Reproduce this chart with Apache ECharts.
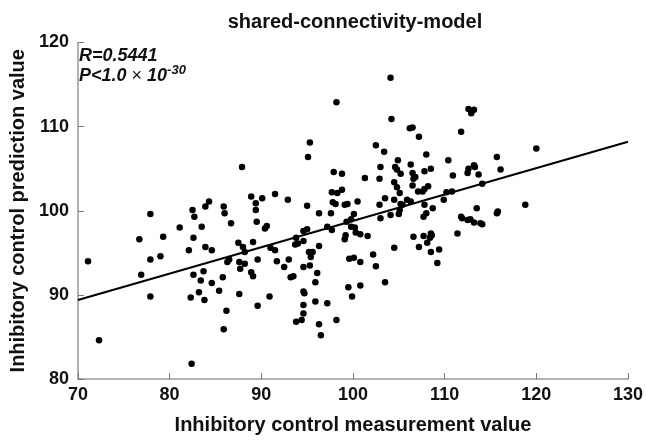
<!DOCTYPE html>
<html>
<head>
<meta charset="utf-8">
<script src="https://cdn.jsdelivr.net/npm/echarts@6/dist/echarts.min.js"></script>
<style>
  html, body { margin: 0; padding: 0; background: #fff; }
  #chart { width: 646px; height: 440px; }
</style>
</head>
<body>
<div id="chart"></div>
<script>
var measured = [
  84.3, 82.5, 83.9, 82.7, 77.9, 81.1, 83.5, 76.7, 79.3, 82.6, 71.1, 77.9, 79.0, 82.1, 83.9, 84.6, 76.9, 82.6, 83.7, 83.4,
  84.6, 77.9, 82.3, 83.2, 83.8, 72.3, 82.4, 98.2, 95.3, 95.1, 87.9, 97.9, 98.8, 97.7, 98.3, 98.8, 88.9, 90.1, 91.5, 92.9,
  89.4, 89.4, 85.9, 86.0, 95.0, 97.8, 98.1, 99.1, 99.4, 96.3, 97.6, 86.7, 89.5, 90.4, 90.6, 95.0, 94.6, 97.2, 97.7, 87.5,
  88.0, 88.2, 89.1, 91.0, 91.5, 93.8, 93.7, 94.0, 94.6, 95.2, 95.6, 95.4, 96.3, 86.5, 86.3, 87.6, 88.2, 87.7, 89.6, 91.7,
  93.0, 92.5, 94.6, 95.3, 96.1, 88.9, 89.1, 85.8, 93.2, 93.5, 85.4, 87.6, 86.2, 85.9, 89.6, 90.9, 95.9, 94.6, 94.7, 94.6,
  94.6, 94.4, 93.8, 95.9, 97.2, 96.3, 96.5, 98.2, 104.1, 104.2, 106.2, 106.5, 107.2, 112.6, 113.2, 112.9, 111.8, 102.5, 103.4, 104.9,
  108.0, 110.4, 103.0, 104.6, 104.8, 106.3, 105.2, 106.5, 106.8, 106.6, 107.8, 108.5, 110.9, 112.6, 112.5, 113.2, 113.3, 113.7, 101.3, 102.9,
  104.5, 104.8, 105.1, 106.5, 107.1, 107.6, 107.8, 108.2, 100.5, 103.5, 104.5, 105.2, 105.4, 105.9, 106.3, 102.9, 105.1, 104.1, 105.0, 103.0,
  107.8, 108.7, 108.0, 107.7, 109.9, 110.2, 110.8, 113.5, 111.8, 111.9, 112.5, 112.8, 113.2, 113.9, 99.3, 99.8, 100.1, 99.8, 100.2, 100.3,
  100.8, 101.6, 99.2, 99.1, 106.6, 107.7, 108.5, 108.6, 108.4, 108.1, 107.2, 108.5, 109.4, 104.5, 111.4, 102.2, 99.6, 100.1, 100.8, 102.5,
  109.2, 99.5, 100.8, 99.9, 103.5, 120.0, 115.7, 116.1, 114.1, 118.8, 115.7, 115.8, 114.1
];
var predicted = [
  101.1, 100.1, 100.5, 99.3, 99.6, 98.0, 98.1, 96.6, 96.9, 96.8, 94.0, 94.2, 94.6, 95.3, 95.7, 95.3, 92.4, 92.4, 92.8, 91.7,
  91.4, 89.8, 89.7, 90.3, 89.4, 84.6, 81.8, 112.9, 108.1, 106.4, 105.2, 104.6, 104.4, 102.2, 102.1, 102.5, 101.7, 101.5, 102.0, 101.3,
  100.9, 100.1, 100.5, 99.7, 100.6, 101.0, 100.8, 100.7, 100.8, 99.7, 99.7, 98.5, 98.7, 97.9, 98.2, 97.8, 97.6, 98.1, 97.7, 96.2,
  95.7, 95.1, 96.3, 95.6, 95.3, 96.8, 96.0, 96.1, 96.4, 95.1, 95.1, 94.5, 95.8, 94.2, 93.9, 93.9, 93.7, 93.1, 94.2, 94.0,
  94.2, 93.3, 93.3, 93.5, 92.6, 92.7, 92.2, 92.1, 92.1, 92.2, 90.5, 90.1, 88.1, 85.9, 88.7, 89.8, 91.5, 90.4, 90.2, 88.8,
  87.8, 87.0, 86.8, 89.2, 89.0, 86.5, 85.2, 87.0, 115.8, 110.9, 109.8, 109.9, 108.8, 112.1, 112.0, 111.6, 109.4, 107.8, 107.0, 106.0,
  106.7, 106.0, 105.2, 105.2, 104.9, 105.5, 104.4, 104.5, 104.0, 103.8, 104.7, 105.0, 104.2, 105.0, 104.5, 105.4, 105.2, 104.3, 103.9, 103.8,
  103.4, 102.8, 102.1, 103.0, 102.3, 102.3, 102.6, 102.9, 101.1, 101.5, 101.3, 100.8, 100.7, 101.3, 101.1, 100.7, 100.1, 99.5, 99.6, 99.1,
  100.7, 100.3, 99.7, 99.3, 101.3, 102.2, 102.3, 100.3, 99.3, 99.1, 98.9, 99.0, 98.6, 98.5, 98.7, 99.0, 99.6, 98.1, 98.0, 97.4,
  97.2, 97.0, 97.1, 96.6, 96.9, 97.0, 97.3, 97.1, 96.8, 96.2, 95.7, 95.1, 95.4, 95.6, 97.3, 94.8, 94.3, 94.4, 93.9, 93.4,
  93.8, 90.9, 91.1, 89.8, 91.5, 107.4, 106.4, 104.9, 103.2, 100.7, 99.7, 99.9, 98.4
];
/* fitted regression line end points */
var fitX = [70, 130];
var fitY = [89.4, 108.2];

var xRange = [70, 130];
var yRange = [80, 120];
var step = 10;

var font = '"Liberation Sans", Arial, sans-serif';

var points = measured.map(function (x, i) { return [x, predicted[i]]; });
var fit = fitX.map(function (x, i) { return [x, fitY[i]]; });

var chart = echarts.init(document.getElementById('chart'), null, { renderer: 'canvas' });
chart.setOption({
  animation: false,
  backgroundColor: '#fff',
  title: {
    text: 'shared-connectivity-model',
    left: 350, top: 7, textAlign: 'center',
    textStyle: { fontFamily: font, fontWeight: 'bold', fontSize: 20, color: '#111' }
  },
  grid: { left: 72.5, right: 17.5, top: 42.5, bottom: 59 },
  xAxis: {
    type: 'value', min: xRange[0], max: xRange[1], interval: step,
    name: 'Inhibitory control measurement value',
    nameLocation: 'middle', nameGap: 36,
    nameTextStyle: { fontFamily: font, fontWeight: 'bold', fontSize: 20, color: '#111' },
    axisLine: { lineStyle: { color: '#999', width: 1.5 } },
    axisTick: { inside: true, length: 6, lineStyle: { color: '#777' } },
    axisLabel: { fontFamily: font, fontWeight: 'bold', fontSize: 18, color: '#111', margin: 7 },
    splitLine: { show: false }
  },
  yAxis: {
    type: 'value', min: yRange[0], max: yRange[1], interval: step,
    name: 'Inhibitory control prediction value',
    nameLocation: 'middle', nameGap: 45,
    nameTextStyle: { fontFamily: font, fontWeight: 'bold', fontSize: 20, color: '#111' },
    axisLine: { lineStyle: { color: '#999', width: 1.5 } },
    axisTick: { inside: true, length: 6, lineStyle: { color: '#777' } },
    axisLabel: { fontFamily: font, fontWeight: 'bold', fontSize: 18, color: '#111', margin: 9 },
    splitLine: { show: false }
  },
  graphic: [
    {
      type: 'text', left: 79, top: 47,
      style: { text: 'R=0.5441', font: 'italic bold 18px ' + font, fill: '#111' }
    },
    {
      type: 'text', left: 79, top: 64,
      style: {
        text: '{a|P<1.0}{x| × }{a|10}{s|-30}',
        rich: {
          a: { font: 'italic bold 18px ' + font, fill: '#111' },
          x: { font: '18px ' + font, fill: '#111' },
          s: { font: 'italic bold 13px ' + font, fill: '#111', padding: [0, 0, 12, 0] }
        }
      }
    }
  ],
  series: [
    {
      type: 'scatter', data: points, symbol: 'circle', symbolSize: 6.5,
      itemStyle: { color: '#000', opacity: 1 }, z: 3
    },
    {
      type: 'line', data: fit, symbol: 'none',
      lineStyle: { color: '#000', width: 2 }, z: 2
    }
  ]
});
</script>
</body>
</html>
